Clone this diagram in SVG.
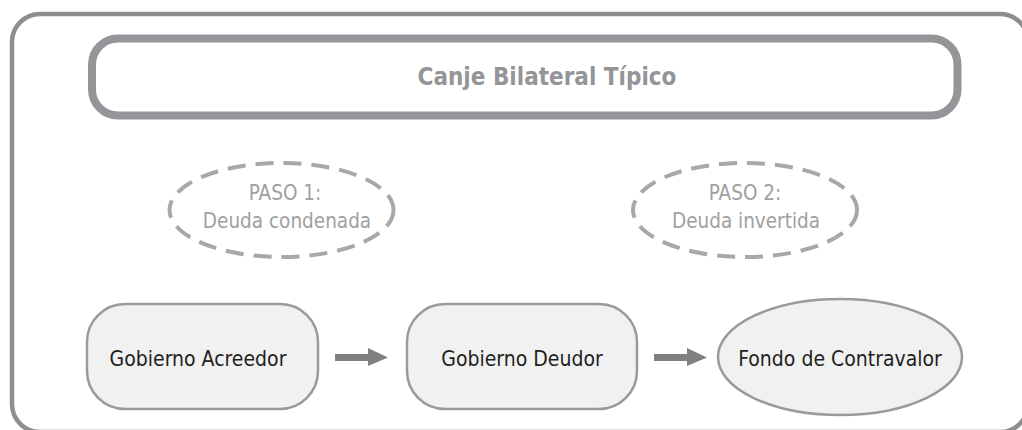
<svg xmlns="http://www.w3.org/2000/svg" width="1022" height="430" viewBox="0 0 1022 430">
  <defs>
    <style>
      .frame { fill: none; stroke: #8e8e8e; stroke-width: 4.5; }
      .title-box { fill: none; stroke: #939598; stroke-width: 8; }
      .title { font-family: "DejaVu Sans Condensed", "DejaVu Sans", sans-serif; font-stretch: condensed; font-weight: bold; font-size: 24px; fill: #939598; text-anchor: middle; }
      .step { fill: none; stroke: #a8a8a8; stroke-width: 4; stroke-dasharray: 18 10; }
      .step-text { font-family: "DejaVu Sans Condensed", "DejaVu Sans", sans-serif; font-stretch: condensed; font-size: 20.5px; fill: #a0a0a0; text-anchor: middle; }
      .node { fill: #f1f1f1; stroke: #9a9a9a; stroke-width: 2.5; }
      .node-text { font-family: "DejaVu Sans Condensed", "DejaVu Sans", sans-serif; font-stretch: condensed; font-size: 21px; fill: #231f20; text-anchor: middle; }
      .arrow { fill: #808080; }
    </style>
  </defs>

  <rect class="frame" x="12" y="14" width="1016" height="418" rx="28" ry="28"/>

  <g id="title">
    <rect class="title-box" x="92" y="38.5" width="865.5" height="77" rx="26" ry="26"/>
    <text class="title" x="547" y="85">Canje Bilateral Típico</text>
  </g>

  <g id="paso1">
    <ellipse class="step" cx="281.5" cy="210" rx="112" ry="47"/>
    <text class="step-text" x="285" y="200">PASO 1:</text>
    <text class="step-text" x="287" y="228">Deuda condenada</text>
  </g>

  <g id="paso2">
    <ellipse class="step" cx="745" cy="210" rx="112" ry="47"/>
    <text class="step-text" x="745" y="200">PASO 2:</text>
    <text class="step-text" x="746" y="228">Deuda invertida</text>
  </g>

  <g id="acreedor">
    <rect class="node" x="87" y="304" width="231" height="105" rx="38" ry="38"/>
    <text class="node-text" x="198" y="366">Gobierno Acreedor</text>
  </g>

  <g id="deudor">
    <rect class="node" x="407" y="304" width="230" height="105" rx="38" ry="38"/>
    <text class="node-text" x="522" y="366">Gobierno Deudor</text>
  </g>

  <g id="fondo">
    <ellipse class="node" cx="840" cy="357" rx="122" ry="58"/>
    <text class="node-text" x="840" y="366">Fondo de Contravalor</text>
  </g>

  <g id="connectors">
    <polygon class="arrow" points="335,354 368,354 368,348 388,357.5 368,366 368,361 335,361"/>
    <polygon class="arrow" points="654,354 687,354 687,348 707,357.5 687,366 687,361 654,361"/>
  </g>
</svg>
